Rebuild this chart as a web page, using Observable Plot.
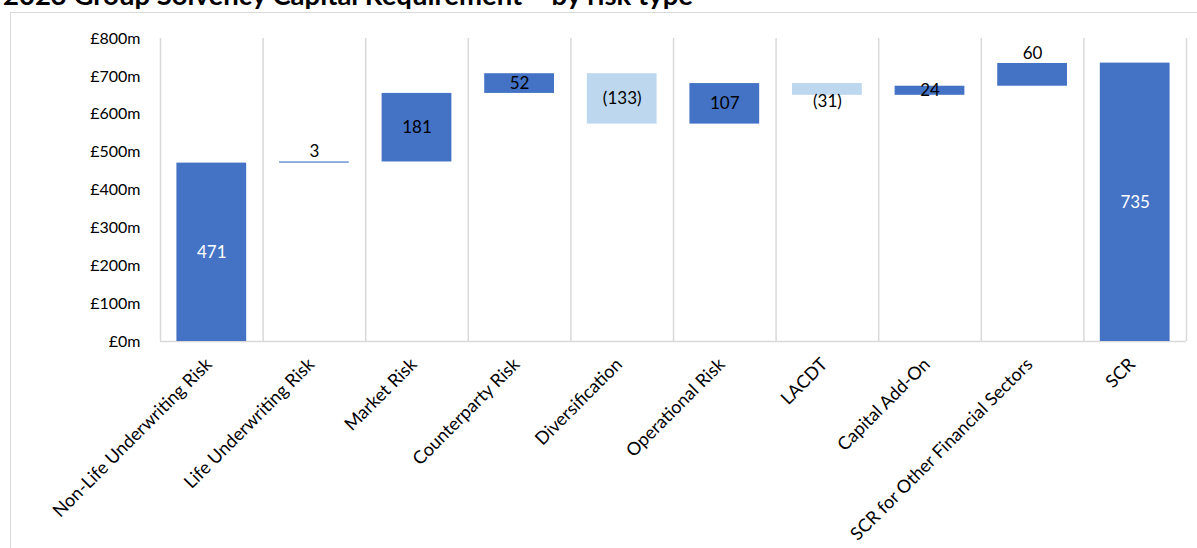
<!DOCTYPE html>
<html>
<head>
<meta charset="utf-8">
<script src="https://cdn.jsdelivr.net/npm/d3@7"></script>
<script src="https://cdn.jsdelivr.net/npm/@observablehq/plot@0.6"></script>
<style>
  html, body { margin: 0; padding: 0; background: #fff; overflow: hidden; }
  #wrap { position: relative; width: 1197px; height: 548px; font-family: Lato, "Open Sans", sans-serif; }
  #title { position: absolute; left: 3px; top: -19px; font-size: 27.5px; font-weight: 700; line-height: 27px; white-space: nowrap; color: #000; }
  #frame { position: absolute; left: 10px; top: 12px; right: -4px; bottom: -4px; border-top: 1.5px solid #d9d9d9; border-left: 1.5px solid #d9d9d9; }
  #chart { position: absolute; left: 0; top: 0; }
</style>
</head>
<body>
<div id="wrap">
  <div id="title">2023 Group Solvency Capital Requirement – by risk type</div>
  <div id="frame"></div>
  <div id="chart"></div>
</div>
<script>
// Group SCR build-up, £m
const categories = [
  "Non-Life Underwriting Risk",
  "Life Underwriting Risk",
  "Market Risk",
  "Counterparty Risk",
  "Diversification",
  "Operational Risk",
  "LACDT",
  "Capital Add-On",
  "SCR for Other Financial Sectors",
  "SCR"
];
// step changes; the final category is the reported total
const changes = [471, 3, 181, 52, -133, 107, -31, 24, 60];
const totalSCR = 735;
const yTicks = [0, 100, 200, 300, 400, 500, 600, 700, 800];

// where each value label sits relative to its bar (default: centred inside)
const labelPlacement = {
  "Life Underwriting Risk": "above",
  "LACDT": "below",
  "SCR for Other Financial Sectors": "above"
};

const DARK = "#4472C4", LIGHT = "#BDD7EE";

// running waterfall table
let level = 0;
const rows = categories.map((category, i) => {
  if (i < changes.length) {
    const start = level;
    level += changes[i];
    return { category, value: changes[i], start, end: level };
  }
  return { category, value: totalSCR, start: 0, end: totalSCR };
});
rows.forEach(r => {
  r.lo = Math.min(r.start, r.end);
  r.hi = Math.max(r.start, r.end);
  r.label = r.value < 0 ? `(${Math.abs(r.value)})` : `${r.value}`;
  r.place = labelPlacement[r.category] || "inside";
});

const W = 1197, H = 548, ML = 160, MR = 11, MT = 38, MB = 207;
const step = (W - ML - MR) / categories.length;
const grid = { stroke: "#d9d9d9", strokeWidth: 1.5 };

const chart = Plot.plot({
  width: W,
  height: H,
  marginLeft: ML,
  marginRight: MR,
  marginTop: MT,
  marginBottom: MB,
  style: { fontFamily: "Lato, 'Open Sans', sans-serif", fontSize: "16px", color: "#000", background: "transparent", overflow: "visible" },
  x: { domain: categories, paddingInner: 0.32, paddingOuter: 0.16, round: false },
  y: { domain: [0, 800], ticks: yTicks },
  color: { type: "identity" },
  marks: [
    // band separators
    Plot.ruleX(categories, { x: d => d, dx: -step / 2, y1: 0, y2: 800, ...grid }),
    Plot.ruleX([categories[categories.length - 1]], { x: d => d, dx: step / 2, y1: 0, y2: 800, ...grid }),
    Plot.ruleY([0], grid),
    Plot.axisY({ ticks: yTicks, tickFormat: d => `£${d}m`, label: null, tickSize: 0, tickPadding: 20, fontSize: 16 }),
    Plot.axisX({ label: null, tickSize: 0, tickRotate: -45, tickPadding: 20, fontSize: 18, dx: -3 }),
    Plot.barY(rows, {
      x: "category",
      y1: "lo",
      y2: "hi",
      fill: d => (d.value < 0 ? LIGHT : DARK)
    }),
    Plot.text(rows.filter(d => d.place === "inside"), {
      x: "category",
      y: d => (d.lo + d.hi) / 2,
      text: "label",
      fill: d => (d.start === 0 ? "#fff" : "#000"),
      fontSize: 17
    }),
    Plot.text(rows.filter(d => d.place === "above"), {
      x: "category", y: "hi", text: "label", fill: "#000", fontSize: 17, dy: -10
    }),
    Plot.text(rows.filter(d => d.place === "below"), {
      x: "category", y: "lo", text: "label", fill: "#000", fontSize: 17, dy: 6
    })
  ]
});

document.getElementById("chart").appendChild(chart);
</script>
</body>
</html>
